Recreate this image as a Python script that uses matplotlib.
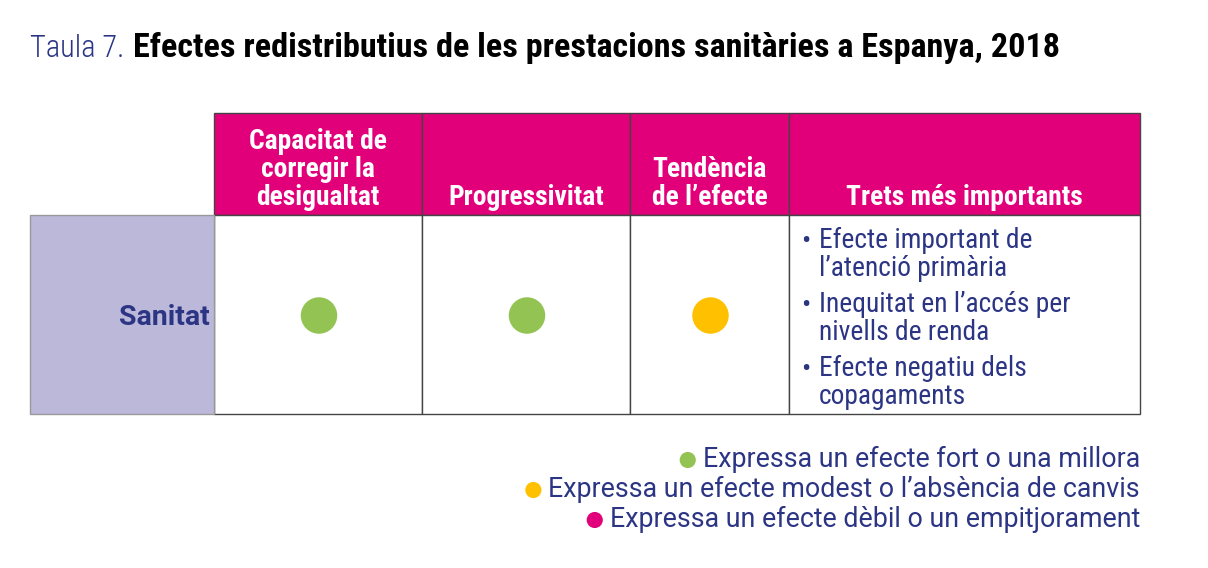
import matplotlib
matplotlib.use('Agg')
import matplotlib.pyplot as plt
from matplotlib.patches import Rectangle

# Data
title_prefix = 'Taula 7.'
title_main = 'Efectes redistributius de les prestacions sanitàries a Espanya, 2018'
columns = ['Capacitat de\ncorregir la\ndesigualtat', 'Progressivitat',
           'Tendència\nde l\u2019efecte', 'Trets més importants']
row_label = 'Sanitat'
ratings = ['fort', 'fort', 'modest']
bullets = ['Efecte important de\nl\u2019atenció primària',
           'Inequitat en l\u2019accés per\nnivells de renda',
           'Efecte negatiu dels\ncopagaments']
legend_keys = ['fort', 'modest', 'debil']
legend_labels = ['Expressa un efecte fort o una millora',
                 'Expressa un efecte modest o l\u2019absència de canvis',
                 'Expressa un efecte dèbil o un empitjorament']

GREEN = '#92c353'
YELLOW = '#ffc000'
MAGENTA = '#e2007a'
NAVY = '#2b3584'
LAVENDER = '#bcb8d9'
rating_colors = {'fort': GREEN, 'modest': YELLOW, 'debil': MAGENTA}

narrow = ['Roboto Condensed', 'DejaVu Sans']
plain = ['Roboto', 'Liberation Sans', 'DejaVu Sans']

fig = plt.figure(figsize=(12.08, 5.68), dpi=100)
ax = fig.add_axes([0, 0, 1, 1])
ax.set_xlim(0, 1208)
ax.set_ylim(568, 0)
ax.axis('off')

# title
t1 = ax.text(30, 57, title_prefix, fontsize=22, color=NAVY, family=narrow,
             fontweight='light', va='baseline', ha='left')
fig.canvas.draw()
bb = t1.get_window_extent()
ax.text(30 + bb.width + 9, 57, title_main, fontsize=24.6, fontweight='bold',
        color='black', family=narrow, va='baseline', ha='left')

# grid
col_x = [214, 422, 630, 789, 1140]
head_top, head_bot, body_bot = 113, 215, 414
label_left = 30
edge = '#444444'

for i in range(len(columns)):
    x0, x1 = col_x[i], col_x[i + 1]
    ax.add_patch(Rectangle((x0, head_top), x1 - x0, head_bot - head_top,
                           facecolor=MAGENTA, edgecolor=edge, lw=1))
    ax.add_patch(Rectangle((x0, head_bot), x1 - x0, body_bot - head_bot,
                           facecolor='white', edgecolor=edge, lw=1))
    ax.text((x0 + x1) / 2, 205, columns[i], color='white', fontsize=19.8,
            fontweight='bold', family=narrow, ha='center', va='baseline',
            linespacing=1.05)

ax.add_patch(Rectangle((label_left, head_bot), col_x[0] - label_left,
                       body_bot - head_bot, facecolor=LAVENDER,
                       edgecolor='#999999', lw=1))
ax.text(col_x[0] - 4, 325, row_label, color=NAVY, fontsize=20.5,
        fontweight='bold', family=plain, ha='right', va='baseline')

# rating dots
mid_y = (head_bot + body_bot) / 2 + 1
for i, r in enumerate(ratings):
    cx = (col_x[i] + col_x[i + 1]) / 2 + 1
    ax.scatter([cx], [mid_y], s=690, color=rating_colors[r], zorder=3,
               edgecolors='none')

# bullets
for i, b in enumerate(bullets):
    y = 276 + i * 64
    ax.text(801, y - 27.5, '\u2022', color=NAVY, fontsize=20, family=plain,
            ha='left', va='baseline')
    ax.text(819, y, b, color=NAVY, fontsize=19.8, family=narrow, ha='left',
            va='baseline', linespacing=1.07)

# legend
for i, (k, lab) in enumerate(zip(legend_keys, legend_labels)):
    y = 467 + i * 30
    t = ax.text(1140, y, lab, color=NAVY, fontsize=19.3, family=plain,
                ha='right', va='baseline')
    fig.canvas.draw()
    w = t.get_window_extent().width
    ax.scatter([1140 - w - 15], [y - 7], s=135, color=rating_colors[k],
               edgecolors='none')

fig.savefig('out.png', dpi=100)
